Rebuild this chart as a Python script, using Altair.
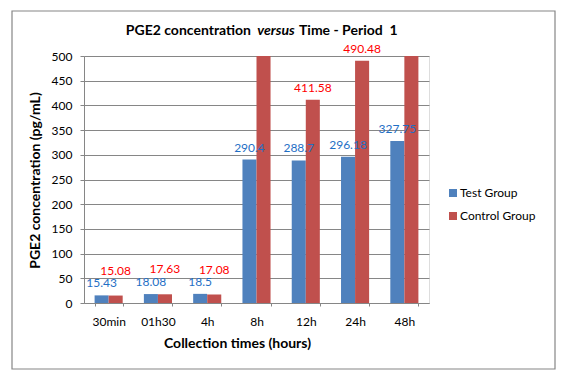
import altair as alt
import pandas as pd

categories = ["30min", "01h30", "4h", "8h", "12h", "24h", "48h"]
test_values = [15.43, 18.08, 18.5, 290.4, 288.7, 296.18, 327.75]
control_values = [15.08, 17.63, 17.08, 500, 411.58, 490.48, 500]
test_labels = ["15.43", "18.08", "18.5", "290.4", "288.7", "296.18", "327.75"]
control_labels = ["15.08", "17.63", "17.08", "", "411.58", "490.48", ""]
series = ["Test Group", "Control Group"]

rows = []
for i, c in enumerate(categories):
    rows.append({"cat": c, "series": series[0], "value": test_values[i], "label": test_labels[i]})
    rows.append({"cat": c, "series": series[1], "value": control_values[i], "label": control_labels[i]})
df = pd.DataFrame(rows)

FONT = "Lato"
BLUE = "#4F81BD"
RED = "#C0504D"
GRID = "#868686"

x_enc = alt.X("cat:N", sort=categories,
              scale=alt.Scale(paddingInner=0.43, paddingOuter=0.215),
              axis=alt.Axis(title="Collection times (hours)", labelAngle=0, tickBand="extent",
                            labelFontSize=12, labelColor="black", labelFont=FONT, labelPadding=10,
                            tickSize=3, tickColor=GRID, domainColor=GRID, grid=False,
                            titleFont=FONT, titleFontSize=14, titleFontWeight="bold",
                            titleColor="black", titleX=153, titleY=40, titleBaseline="middle"))
xo = alt.XOffset("series:N", sort=series, scale=alt.Scale(paddingInner=0, paddingOuter=0))
y_enc = alt.Y("value:Q", scale=alt.Scale(domain=[0, 500], clamp=True, nice=False),
              axis=alt.Axis(title="PGE2 concentration (pg/mL)", values=list(range(0, 501, 50)),
                            labelOverlap=False,
                            grid=True, gridColor=GRID, domainColor=GRID, tickColor=GRID, tickSize=4,
                            labelFontSize=12, labelColor="black", labelFont=FONT, labelPadding=8,
                            titleFont=FONT, titleFontSize=14, titleFontWeight="bold",
                            titleColor="black", titleX=-49, titleY=124,
                            titleAlign="center", titleBaseline="middle", titleAngle=-90))

base = alt.Chart(df)

bars = base.mark_bar(clip=True).encode(
    x=x_enc, xOffset=xo, y=y_enc,
    color=alt.Color("series:N", sort=series, scale=alt.Scale(domain=series, range=[BLUE, RED]),
                    legend=alt.Legend(title=None, orient="none", legendX=363, legendY=131,
                                      symbolType="square", symbolSize=64, symbolStrokeWidth=0,
                                      labelFontSize=12, labelFont=FONT, labelColor="black",
                                      rowPadding=11, labelOffset=1)),
)

blue_lab = base.transform_filter(alt.datum.series == "Test Group").mark_text(
    dy=-12, fontSize=12, font=FONT, color="#1F6FC5"
).encode(x=x_enc, xOffset=xo, y=y_enc, text="label:N")

red_hi = base.transform_filter(
    (alt.datum.series == "Control Group") & (alt.datum.value >= 50)
).mark_text(dy=-12, fontSize=12, font=FONT, color="#FF0000").encode(
    x=x_enc, xOffset=xo, y=y_enc, text="label:N")

red_lo = base.transform_filter(
    (alt.datum.series == "Control Group") & (alt.datum.value < 50)
).mark_text(dy=-25, fontSize=12, font=FONT, color="#FF0000").encode(
    x=x_enc, xOffset=xo, y=y_enc, text="label:N")

t1 = alt.Chart(pd.DataFrame({"t": ["PGE2 concentration"]})).mark_text(
    align="right", baseline="middle", fontSize=14, fontWeight="bold", font=FONT, color="black"
).encode(text="t:N", x=alt.value(167), y=alt.value(-25))
t2 = alt.Chart(pd.DataFrame({"t": ["versus"]})).mark_text(
    align="center", baseline="middle", fontSize=14, fontWeight="bold", fontStyle="italic",
    font=FONT, color="black"
).encode(text="t:N", x=alt.value(192), y=alt.value(-25))
t3 = alt.Chart(pd.DataFrame({"t": ["Time - Period\u00a0 1"]})).mark_text(
    align="left", baseline="middle", fontSize=14, fontWeight="bold", font=FONT, color="black"
).encode(text="t:N", x=alt.value(215), y=alt.value(-25))

border = alt.Chart(pd.DataFrame({"a": [0]})).mark_rect(
    fill=None, stroke=GRID, strokeWidth=1.2
).encode(x=alt.value(-72), x2=alt.value(471), y=alt.value(-45), y2=alt.value(313))

chart = alt.layer(bars, border, blue_lab, red_hi, red_lo, t1, t2, t3).properties(
    width=345, height=247,
    autosize=alt.AutoSizeParams(type="none"),
    padding={"left": 76, "top": 48, "right": 127, "bottom": 69},
).configure_view(stroke=None).configure(background="white")

chart.save("out.html", embed_options={"renderer": "svg", "actions": False})
